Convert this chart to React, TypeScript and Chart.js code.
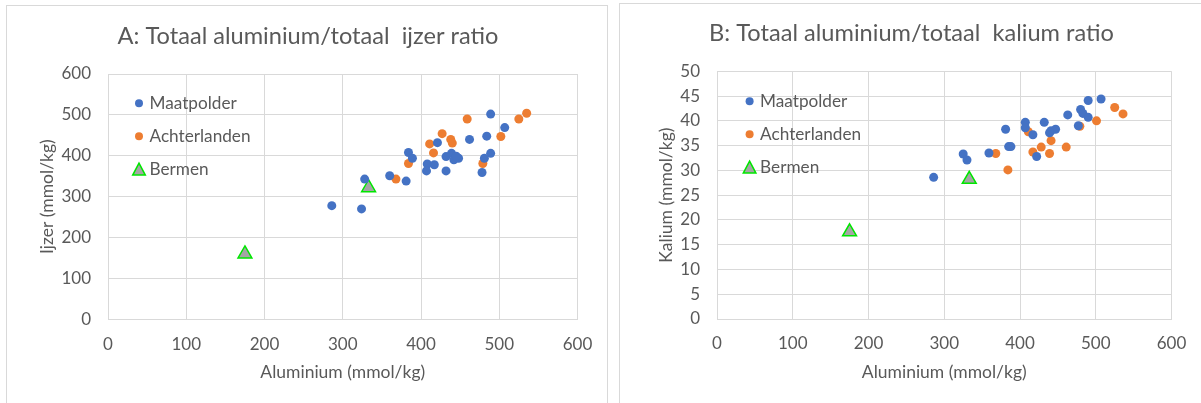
import React, { useEffect, useRef } from 'react';
import { Chart, registerables } from 'chart.js';

Chart.register(...registerables);

const FONT = 'Lato, "Open Sans", sans-serif';
const TEXT = '#595959';
const GRID = '#d9d9d9';

// Series names
const seriesNames = ['Maatpolder', 'Achterlanden', 'Bermen'];

// Tick labels
const aluminiumTicks = [0, 100, 200, 300, 400, 500, 600];
const ironTicks = [0, 100, 200, 300, 400, 500, 600];
const potassiumTicks = [0, 5, 10, 15, 20, 25, 30, 35, 40, 45, 50];

// Chart A: aluminium vs ijzer
const maatpolderAlA = [489, 507, 462, 484, 421, 384, 389, 489, 481, 478, 432, 439, 442, 448, 445, 408, 417, 407, 432, 381, 360, 328, 286, 324];
const maatpolderFeA = [502, 469, 440, 448, 432, 408, 394, 406, 394, 359, 398, 406, 390, 394, 399, 380, 378, 363, 363, 338, 351, 343, 278, 270];
const achterlandenAlA = [459, 525, 535, 502, 427, 438, 440, 411, 416, 384, 479, 368];
const achterlandenFeA = [490, 490, 504, 447, 454, 440, 431, 429, 407, 381, 381, 343];
const bermenAlA = [175, 333];
const bermenFeA = [160, 322];

// Chart B: aluminium vs kalium
const maatpolderAlB = [507, 490, 480, 483, 490, 463, 477, 407, 407, 432, 417, 441, 447, 439, 381, 385, 388, 359, 325, 330, 286, 422];
const maatpolderKB = [44.4, 44.1, 42.3, 41.5, 40.7, 41.2, 39.0, 39.7, 38.6, 39.7, 37.2, 38.0, 38.3, 37.6, 38.3, 34.8, 34.8, 33.5, 33.3, 32.1, 28.6, 32.8];
const achterlandenAlB = [525, 536, 501, 479, 411, 441, 428, 461, 417, 439, 368, 384];
const achterlandenKB = [42.7, 41.4, 40.0, 38.9, 37.8, 36.0, 34.7, 34.7, 33.7, 33.4, 33.4, 30.1];
const bermenAlB = [175, 333];
const bermenKB = [17.6, 28.2];

const insideLegend = {
  id: 'insideLegend',
  afterDatasetsDraw(chart: any, _args: any, opts: any) {
    const { ctx, chartArea } = chart;
    ctx.save();
    chart.data.datasets.forEach((ds: any, i: number) => {
      const x = chartArea.left + opts.dx;
      const y = chartArea.top + opts.dy + i * opts.gap;
      ctx.fillStyle = ds.backgroundColor;
      if (ds.pointStyle === 'triangle') {
        ctx.beginPath();
        ctx.moveTo(x, y - 6.2);
        ctx.lineTo(x + 6.3, y + 5.8);
        ctx.lineTo(x - 6.3, y + 5.8);
        ctx.closePath();
        ctx.fill();
        ctx.strokeStyle = ds.borderColor;
        ctx.lineWidth = 1.5;
        ctx.stroke();
      } else {
        ctx.beginPath();
        ctx.arc(x, y, 4, 0, Math.PI * 2);
        ctx.fill();
      }
      ctx.fillStyle = TEXT;
      ctx.font = `${opts.fontSize}px ${FONT}`;
      ctx.textBaseline = 'middle';
      ctx.textAlign = 'left';
      ctx.fillText(ds.label, x + opts.textGap, y);
    });
    ctx.restore();
  },
};

function makeDatasets(xs: number[][], ys: number[][]) {
  const styles = [
    { pointStyle: 'circle', backgroundColor: '#4472C4', borderColor: '#4472C4', borderWidth: 0, pointRadius: 4.5 },
    { pointStyle: 'circle', backgroundColor: '#ED7D31', borderColor: '#ED7D31', borderWidth: 0, pointRadius: 4.5 },
    { pointStyle: 'triangle', backgroundColor: '#A5A5A5', borderColor: '#00E600', borderWidth: 1.5, pointRadius: 8 },
  ];
  return seriesNames.map((name, i) => ({
    label: name,
    data: xs[i].map((x, j) => ({ x, y: ys[i][j] })),
    ...styles[i],
    pointHoverRadius: styles[i].pointRadius,
  }));
}

interface Spec {
  title: string;
  yTitle: string;
  yTicks: number[];
  xs: number[][];
  ys: number[][];
  yAxisWidth: number;
  yTitlePad: number;
  xAxisHeight: number;
  titlePadTop: number;
  titlePadBottom: number;
  leftPad: number;
  rightPad: number;
  legendDx: number;
  legendDy: number;
}

function makeConfig(s: Spec): any {
  const tickFont = { family: FONT, size: 17 };
  const axisTitleFont = { family: FONT, size: 17.5 };
  return {
    type: 'scatter',
    data: { datasets: makeDatasets(s.xs, s.ys) },
    plugins: [insideLegend],
    options: {
      animation: false,
      responsive: false,
      events: [],
      layout: { padding: { left: s.leftPad, right: s.rightPad, top: 0, bottom: 0 } },
      plugins: {
        legend: { display: false },
        tooltip: { enabled: false },
        title: {
          display: true,
          text: s.title,
          color: TEXT,
          font: { family: FONT, size: 23.6, weight: 'normal' },
          padding: { top: s.titlePadTop, bottom: s.titlePadBottom },
        },
        insideLegend: { dx: s.legendDx, dy: s.legendDy, gap: 33, textGap: 10.5, fontSize: 17.2 },
      },
      scales: {
        x: {
          type: 'linear',
          min: aluminiumTicks[0],
          max: aluminiumTicks[aluminiumTicks.length - 1],
          afterBuildTicks: (sc: any) => {
            sc.ticks = aluminiumTicks.map((v) => ({ value: v }));
          },
          afterFit: (sc: any) => {
            sc.height = s.xAxisHeight;
          },
          grid: { color: GRID, drawTicks: false, lineWidth: 1 },
          border: { color: GRID, width: 1 },
          ticks: { padding: 14.7, color: TEXT, font: tickFont, maxRotation: 0 },
          title: {
            display: true,
            text: 'Aluminium (mmol/kg)',
            color: TEXT,
            font: axisTitleFont,
            padding: { top: 0, bottom: 20.4 },
          },
        },
        y: {
          type: 'linear',
          min: s.yTicks[0],
          max: s.yTicks[s.yTicks.length - 1],
          afterBuildTicks: (sc: any) => {
            sc.ticks = s.yTicks.map((v) => ({ value: v }));
          },
          afterFit: (sc: any) => {
            sc.width = s.yAxisWidth;
          },
          grid: { color: GRID, drawTicks: false, lineWidth: 1 },
          border: { color: GRID, width: 1 },
          ticks: { padding: 17, color: TEXT, font: tickFont },
          title: {
            display: true,
            text: s.yTitle,
            color: TEXT,
            font: axisTitleFont,
            padding: { top: s.yTitlePad, bottom: 0 },
          },
        },
      },
    },
  };
}

function ChartPanel(props: { left: number; top: number; width: number; height: number; spec: Spec }) {
  const ref = useRef<HTMLCanvasElement | null>(null);
  useEffect(() => {
    if (!ref.current) return;
    const chart = new Chart(ref.current, makeConfig(props.spec));
    return () => chart.destroy();
  }, []);
  return (
    <div
      style={{
        position: 'absolute',
        left: props.left,
        top: props.top,
        width: props.width,
        height: props.height + 6,
        border: `1px solid ${GRID}`,
        background: '#fff',
      }}
    >
      <canvas ref={ref} width={props.width} height={props.height} style={{ display: 'block' }} />
    </div>
  );
}

const specA: Spec = {
  title: 'A: Totaal aluminium/totaal  ijzer ratio',
  yTitle: 'Ijzer (mmol/kg)',
  yTicks: ironTicks,
  xs: [maatpolderAlA, achterlandenAlA, bermenAlA],
  ys: [maatpolderFeA, achterlandenFeA, bermenFeA],
  yAxisWidth: 72,
  yTitlePad: 0.4,
  xAxisHeight: 83.7,
  titlePadTop: 15.84,
  titlePadBottom: 23.84,
  leftPad: 29,
  rightPad: 27,
  legendDx: 31,
  legendDy: 29.3,
};

const specB: Spec = {
  title: 'B: Totaal aluminium/totaal  kalium ratio',
  yTitle: 'Kalium (mmol/kg)',
  yTicks: potassiumTicks,
  xs: [maatpolderAlB, achterlandenAlB, bermenAlB],
  ys: [maatpolderKB, achterlandenKB, bermenKB],
  yAxisWidth: 68,
  yTitlePad: 6.8,
  xAxisHeight: 84,
  titlePadTop: 15.14,
  titlePadBottom: 23.84,
  leftPad: 29,
  rightPad: 27,
  legendDx: 32.6,
  legendDy: 30,
};

export default function App() {
  return (
    <div
      style={{
        position: 'fixed',
        left: 0,
        top: 0,
        width: 1201,
        height: 403,
        background: '#fff',
        overflow: 'hidden',
      }}
    >
      <ChartPanel left={6} top={5} width={600} height={397} spec={specA} />
      <ChartPanel left={619} top={3} width={581} height={399} spec={specB} />
    </div>
  );
}
